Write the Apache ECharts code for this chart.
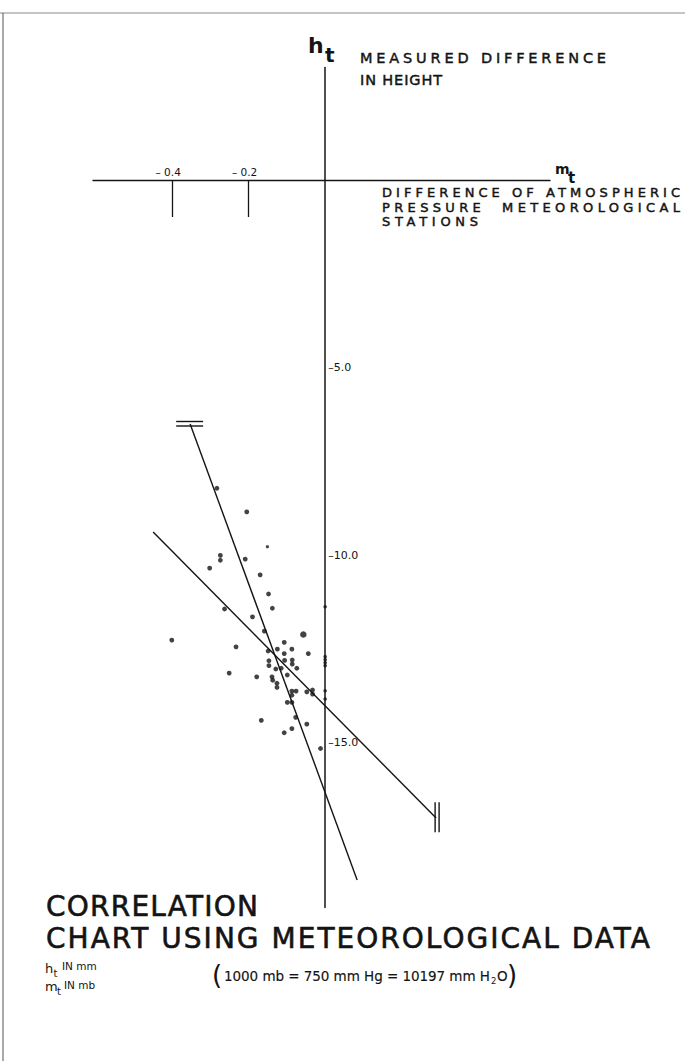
<!DOCTYPE html>
<html><head><meta charset="utf-8">
<script src="https://cdn.jsdelivr.net/npm/echarts@6/dist/echarts.min.js"></script>
<style>html,body{margin:0;padding:0;background:#fff}#c{width:685px;height:1061px}</style>
</head><body><div id="c"></div>
<script>
// ---- data (m_t in mb, h_t in mm) ----
const xTickValues = [-0.4, -0.2];
const xTickLabels = ['– 0.4', '– 0.2'];
const yTickValues = [-5, -10, -15];
const yTickLabels = ['–5.0', '–10.0', '–15.0'];
const points = [
  [-0.283,-8.22],[-0.205,-8.85],[-0.274,-10.01],[-0.274,-10.14],[-0.209,-10.11],[-0.302,-10.35],
  [-0.170,-10.53],[-0.148,-11.04],[-0.263,-11.44],[-0.138,-11.42],[-0.190,-11.65],[-0.159,-12.03],
  [-0.401,-12.27],[-0.233,-12.45],[-0.107,-12.33],[-0.149,-12.56],[-0.125,-12.51],[-0.087,-12.51],
  [-0.044,-12.63],[-0.107,-12.63],[-0.147,-12.82],[-0.147,-12.95],[-0.106,-12.81],[-0.086,-12.80],
  [-0.086,-12.91],[-0.129,-13.04],[-0.115,-13.02],[-0.074,-13.02],[-0.251,-13.15],[-0.099,-13.20],
  [-0.179,-13.25],[-0.139,-13.25],[-0.137,-13.34],[-0.126,-13.42],[-0.126,-13.53],[-0.087,-13.63],
  [-0.076,-13.63],[-0.048,-13.65],[-0.033,-13.60],[-0.033,-13.71],[-0.087,-13.74],[-0.099,-13.93],
  [-0.087,-13.93],[-0.077,-14.33],[-0.167,-14.41],[-0.048,-14.51],[-0.107,-14.74],[-0.087,-14.63],
  [-0.012,-15.16]
];
const bigPoints = [[-0.057,-12.12]];
const smallPoints = [[-0.151,-9.78]];
const axisPoints = [[0,-11.38],[0,-12.71],[0,-12.79],[0,-12.87],[0,-12.95],[0,-13.62],[0,-13.84]];
const steepLine = [[-0.353,-6.507],[0.0837,-18.667]];
const shallowLine = [[-0.4497,-9.387],[0.2902,-17.013]];
const steepEndA = [[-0.3895,-6.44],[-0.319,-6.44]];
const steepEndB = [[-0.3895,-6.56],[-0.319,-6.56]];
const shallowEndA = [[0.2876,-16.59],[0.2876,-17.39]];
const shallowEndB = [[0.298,-16.59],[0.298,-17.39]];

const FONT = 'DejaVu Sans';
const INK = '#141414';
// axis ranges and layout
const X_MIN = -0.607, X_MAX = 0.588, Y_MIN = -19.4, Y_MAX = 3;
const G_LEFT = 93, G_RIGHT = 135, G_TOP = 67.5, G_BOTTOM = 153.5, W = 685, H = 1061;
const plotW = W - G_LEFT - G_RIGHT, plotH = H - G_TOP - G_BOTTOM;
const zeroX = G_LEFT + (0 - X_MIN) / (X_MAX - X_MIN) * plotW;
const zeroY = G_TOP + (Y_MAX - 0) / (Y_MAX - Y_MIN) * plotH;

// target rendered widths (px) for letter-spaced lettering
const spacedWidths = {
  'MEASURED DIFFERENCE': 246,
  'IN HEIGHT': 82,
  'DIFFERENCE OF ATMOSPHERIC': 298,
  'PRESSURE  METEOROLOGICAL': 298,
  'STATIONS': 96,
  'CORRELATION': 212,
  'CHART USING METEOROLOGICAL DATA': 604,
  '1000 mb = 750 mm Hg = 10197 mm H': 266
};

function txt(x, y, text, size, extra) {
  return {type:'text', x:x, y:y, silent:true, z:10,
    style:Object.assign({text:text, fontSize:size, fontFamily:FONT, fill:INK, stroke:INK, lineWidth:0.45,
      align:'left', verticalAlign:'middle'}, extra || {})};
}
function seg(data) {
  return {type:'line', data:data, symbol:'none', silent:true, animation:false,
    lineStyle:{color:INK, width:1.4}};
}

const chart = echarts.init(document.getElementById('c'), null, {renderer:'svg', width:W, height:H});
chart.setOption({
  animation:false,
  backgroundColor:'#fff',
  grid:{left:G_LEFT, right:G_RIGHT, top:G_TOP, bottom:G_BOTTOM, containLabel:false, outerBoundsMode:'none'},
  xAxis:{type:'value', min:X_MIN, max:X_MAX, position:'bottom', offset:-(G_TOP + plotH - zeroY),
    axisLine:{onZero:false, lineStyle:{color:INK, width:1.4}},
    axisTick:{show:true, customValues:xTickValues, length:37, inside:false, lineStyle:{color:INK, width:1.3}},
    axisLabel:{show:true, customValues:xTickValues, inside:true, margin:3, fontSize:10.5, fontFamily:FONT, color:INK,
      padding:[0,8,0,0],
      formatter:function(v){const i = xTickValues.findIndex(t=>Math.abs(t-v)<1e-6); return i>=0 ? xTickLabels[i] : '';}},
    splitLine:{show:false}},
  yAxis:{type:'value', min:Y_MIN, max:Y_MAX, position:'left', offset:-(zeroX - G_LEFT),
    axisLine:{onZero:false, lineStyle:{color:INK, width:1.5}},
    axisTick:{show:false},
    axisLabel:{show:true, customValues:yTickValues, inside:true, margin:3, fontSize:11, fontFamily:FONT, color:INK,
      formatter:function(v){const i = yTickValues.findIndex(t=>Math.abs(t-v)<1e-6); return i>=0 ? yTickLabels[i] : '';}},
    splitLine:{show:false}},
  series:[
    seg(steepLine), seg(shallowLine), seg(steepEndA), seg(steepEndB), seg(shallowEndA), seg(shallowEndB),
    {type:'scatter', data:points, symbolSize:4.8, itemStyle:{color:INK}, silent:true},
    {type:'scatter', data:bigPoints, symbolSize:6.5, itemStyle:{color:INK}, silent:true},
    {type:'scatter', data:smallPoints, symbolSize:3.2, itemStyle:{color:INK}, silent:true},
    {type:'scatter', data:axisPoints, symbolSize:3.6, itemStyle:{color:INK}, silent:true}
  ],
  graphic:[
    {type:'line', silent:true, shape:{x1:0, y1:13, x2:685, y2:13}, style:{stroke:'#8a8a8a', lineWidth:1}},
    {type:'line', silent:true, shape:{x1:3, y1:13, x2:3, y2:1061}, style:{stroke:'#555', lineWidth:1}},
    txt(308, 45.4, 'h', 22, {fontWeight:'bold', lineWidth:0}),
    txt(325, 55, 't', 20, {fontWeight:'bold', lineWidth:0}),
    txt(360, 58, 'MEASURED DIFFERENCE', 14.5),
    txt(360, 80, 'IN HEIGHT', 14.5),
    txt(555, 169, 'm', 14, {fontWeight:'bold', lineWidth:0}),
    txt(568, 178, 't', 15, {fontWeight:'bold', lineWidth:0}),
    txt(382, 192.7, 'DIFFERENCE OF ATMOSPHERIC', 13),
    txt(382, 207.3, 'PRESSURE  METEOROLOGICAL', 13),
    txt(382, 221.7, 'STATIONS', 13),
    txt(46, 906, 'CORRELATION', 28, {lineWidth:0.6}),
    txt(46, 938, 'CHART USING METEOROLOGICAL DATA', 28, {lineWidth:0.6}),
    txt(45, 968, 'h', 13, {lineWidth:0}),
    txt(53.5, 973, 't', 10, {lineWidth:0}),
    txt(62, 966, 'IN mm', 10.5, {lineWidth:0}),
    txt(45, 986, 'm', 13, {lineWidth:0}),
    txt(57, 991, 't', 10, {lineWidth:0}),
    txt(64, 985, 'IN mb', 10.5, {lineWidth:0}),
    txt(212, 975, '(', 26, {lineWidth:0}),
    txt(224, 976, '1000 mb = 750 mm Hg = 10197 mm H', 13.5, {lineWidth:0.15}),
    txt(491, 981, '2', 8.5, {lineWidth:0}),
    txt(497, 976, 'O', 13.5, {lineWidth:0.15}),
    txt(507, 975, ')', 26, {lineWidth:0})
  ]
});

function applySpacing() {
  document.querySelectorAll('#c svg text').forEach(function(t){
    const s = t.textContent;
    const w = spacedWidths[s];
    if (!w) return;
    t.removeAttribute('letter-spacing');
    t.setAttribute('xml:space', 'preserve');
    t.style.whiteSpace = 'pre';
    const nat = t.getComputedTextLength();
    const ls = (w - nat) / Math.max(1, s.length - 1);
    t.setAttribute('letter-spacing', ls.toFixed(2));
  });
}
applySpacing();
chart.on('finished', applySpacing);
setTimeout(applySpacing, 50);
</script>
</body></html>
